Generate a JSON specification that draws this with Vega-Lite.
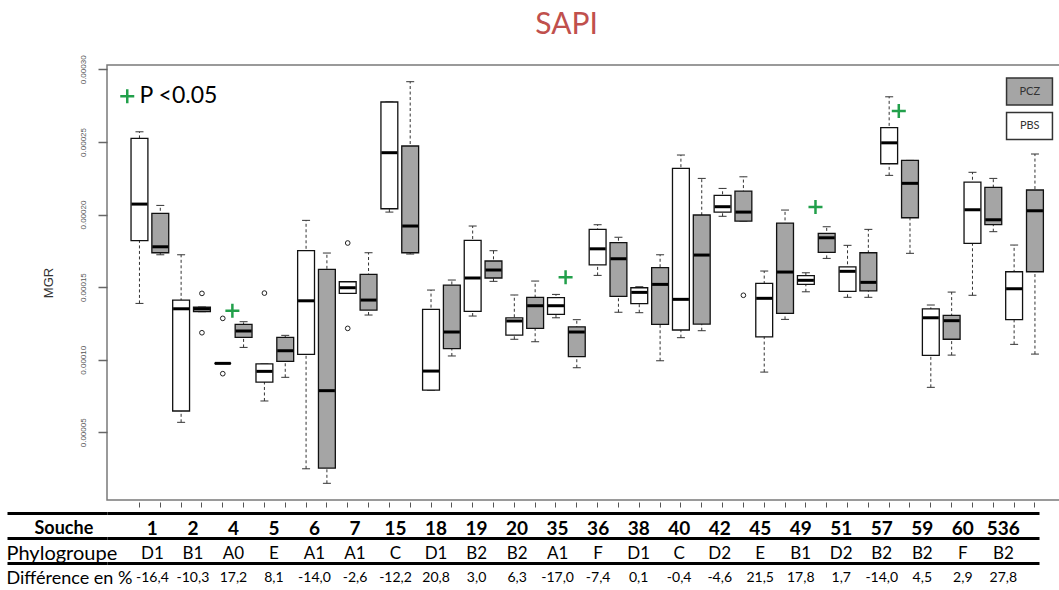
{
  "$schema": "https://vega.github.io/schema/vega-lite/v6.json",
  "padding": {"left": 5, "top": 10, "right": 0, "bottom": 0},
  "title": {"text": "SAPI", "font": "Lato", "fontSize": 30, "fontWeight": "normal", "color": "#c0504d", "anchor": "middle", "dx": 33, "offset": 14},
  "config": {"view": {"stroke": "#7a7a7a", "strokeWidth": 1.5}, "font": "Lato"},
  "spacing": -5,
  "datasets": {
    "boxes": [
      {"box": "1 PBS", "traitement": "PBS", "lo": 0.0001388, "q1": 0.0001820, "med": 0.0002072, "q3": 0.0002525, "hi": 0.0002570},
      {"box": "1 PCZ", "traitement": "PCZ", "lo": 0.0001723, "q1": 0.0001737, "med": 0.0001778, "q3": 0.0002008, "hi": 0.0002063},
      {"box": "2 PBS", "traitement": "PBS", "lo": 0.0000569, "q1": 0.0000647, "med": 0.0001351, "q3": 0.0001411, "hi": 0.0001723},
      {"box": "2 PCZ", "traitement": "PCZ", "lo": 0.0001331, "q1": 0.0001331, "med": 0.0001351, "q3": 0.0001363, "hi": 0.0001363},
      {"box": "4 PBS", "traitement": "PBS", "lo": 0.0000975, "q1": 0.0000975, "med": 0.0000975, "q3": 0.0000975, "hi": 0.0000975},
      {"box": "4 PCZ", "traitement": "PCZ", "lo": 0.0001085, "q1": 0.0001154, "med": 0.0001198, "q3": 0.0001244, "hi": 0.0001262},
      {"box": "5 PBS", "traitement": "PBS", "lo": 0.0000716, "q1": 0.0000846, "med": 0.0000920, "q3": 0.0000972, "hi": 0.0000972},
      {"box": "5 PCZ", "traitement": "PCZ", "lo": 0.0000879, "q1": 0.0000989, "med": 0.0001062, "q3": 0.0001154, "hi": 0.0001168},
      {"box": "6 PBS", "traitement": "PBS", "lo": 0.0000249, "q1": 0.0001037, "med": 0.0001406, "q3": 0.0001751, "hi": 0.0001960},
      {"box": "6 PCZ", "traitement": "PCZ", "lo": 0.0000149, "q1": 0.0000254, "med": 0.0000787, "q3": 0.0001623, "hi": 0.0001735},
      {"box": "7 PBS", "traitement": "PBS", "lo": 0.0001457, "q1": 0.0001457, "med": 0.0001496, "q3": 0.0001537, "hi": 0.0001537},
      {"box": "7 PCZ", "traitement": "PCZ", "lo": 0.0001308, "q1": 0.0001342, "med": 0.0001411, "q3": 0.0001588, "hi": 0.0001737},
      {"box": "15 PBS", "traitement": "PBS", "lo": 0.0002017, "q1": 0.0002040, "med": 0.0002426, "q3": 0.0002775, "hi": 0.0002775},
      {"box": "15 PCZ", "traitement": "PCZ", "lo": 0.0001728, "q1": 0.0001737, "med": 0.0001921, "q3": 0.0002472, "hi": 0.0002915},
      {"box": "18 PBS", "traitement": "PBS", "lo": 0.0000791, "q1": 0.0000791, "med": 0.0000922, "q3": 0.0001347, "hi": 0.0001480},
      {"box": "18 PCZ", "traitement": "PCZ", "lo": 0.0001026, "q1": 0.0001076, "med": 0.0001191, "q3": 0.0001514, "hi": 0.0001549},
      {"box": "19 PBS", "traitement": "PBS", "lo": 0.0001301, "q1": 0.0001333, "med": 0.0001563, "q3": 0.0001822, "hi": 0.0001921},
      {"box": "19 PCZ", "traitement": "PCZ", "lo": 0.0001540, "q1": 0.0001563, "med": 0.0001618, "q3": 0.0001680, "hi": 0.0001751},
      {"box": "20 PBS", "traitement": "PBS", "lo": 0.0001141, "q1": 0.0001170, "med": 0.0001267, "q3": 0.0001289, "hi": 0.0001446},
      {"box": "20 PCZ", "traitement": "PCZ", "lo": 0.0001124, "q1": 0.0001216, "med": 0.0001372, "q3": 0.0001430, "hi": 0.0001542},
      {"box": "35 PBS", "traitement": "PBS", "lo": 0.0001289, "q1": 0.0001313, "med": 0.0001372, "q3": 0.0001428, "hi": 0.0001450},
      {"box": "35 PCZ", "traitement": "PCZ", "lo": 0.0000945, "q1": 0.0001021, "med": 0.0001191, "q3": 0.0001227, "hi": 0.0001276},
      {"box": "36 PBS", "traitement": "PBS", "lo": 0.0001581, "q1": 0.0001654, "med": 0.0001764, "q3": 0.0001898, "hi": 0.0001930},
      {"box": "36 PCZ", "traitement": "PCZ", "lo": 0.0001327, "q1": 0.0001437, "med": 0.0001696, "q3": 0.0001806, "hi": 0.0001843},
      {"box": "38 PBS", "traitement": "PBS", "lo": 0.0001324, "q1": 0.0001386, "med": 0.0001464, "q3": 0.0001496, "hi": 0.0001503},
      {"box": "38 PCZ", "traitement": "PCZ", "lo": 0.0000993, "q1": 0.0001244, "med": 0.0001519, "q3": 0.0001634, "hi": 0.0001723},
      {"box": "40 PBS", "traitement": "PBS", "lo": 0.0001152, "q1": 0.0001205, "med": 0.0001416, "q3": 0.0002318, "hi": 0.0002410},
      {"box": "40 PCZ", "traitement": "PCZ", "lo": 0.0001200, "q1": 0.0001246, "med": 0.0001721, "q3": 0.0001997, "hi": 0.0002249},
      {"box": "42 PBS", "traitement": "PBS", "lo": 0.0001988, "q1": 0.0002017, "med": 0.0002054, "q3": 0.0002132, "hi": 0.0002180},
      {"box": "42 PCZ", "traitement": "PCZ", "lo": 0.0001955, "q1": 0.0001955, "med": 0.0002017, "q3": 0.0002162, "hi": 0.0002260},
      {"box": "45 PBS", "traitement": "PBS", "lo": 0.0000915, "q1": 0.0001158, "med": 0.0001423, "q3": 0.0001526, "hi": 0.0001611},
      {"box": "45 PCZ", "traitement": "PCZ", "lo": 0.0001278, "q1": 0.0001320, "med": 0.0001604, "q3": 0.0001941, "hi": 0.0002031},
      {"box": "49 PBS", "traitement": "PBS", "lo": 0.0001468, "q1": 0.0001519, "med": 0.0001547, "q3": 0.0001579, "hi": 0.0001599},
      {"box": "49 PCZ", "traitement": "PCZ", "lo": 0.0001698, "q1": 0.0001740, "med": 0.0001840, "q3": 0.0001870, "hi": 0.0001916},
      {"box": "51 PBS", "traitement": "PBS", "lo": 0.0001430, "q1": 0.0001471, "med": 0.0001609, "q3": 0.0001640, "hi": 0.0001788},
      {"box": "51 PCZ", "traitement": "PCZ", "lo": 0.0001430, "q1": 0.0001475, "med": 0.0001533, "q3": 0.0001737, "hi": 0.0001898},
      {"box": "57 PBS", "traitement": "PBS", "lo": 0.0002270, "q1": 0.0002350, "med": 0.0002494, "q3": 0.0002598, "hi": 0.0002811},
      {"box": "57 PCZ", "traitement": "PCZ", "lo": 0.0001733, "q1": 0.0001978, "med": 0.0002215, "q3": 0.0002373, "hi": 0.0002373},
      {"box": "59 PBS", "traitement": "PBS", "lo": 0.0000810, "q1": 0.0001030, "med": 0.0001289, "q3": 0.0001350, "hi": 0.0001377},
      {"box": "59 PCZ", "traitement": "PCZ", "lo": 0.0001032, "q1": 0.0001141, "med": 0.0001269, "q3": 0.0001306, "hi": 0.0001466},
      {"box": "60 PBS", "traitement": "PBS", "lo": 0.0001444, "q1": 0.0001802, "med": 0.0002033, "q3": 0.0002224, "hi": 0.0002291},
      {"box": "60 PCZ", "traitement": "PCZ", "lo": 0.0001882, "q1": 0.0001930, "med": 0.0001964, "q3": 0.0002187, "hi": 0.0002249},
      {"box": "536 PBS", "traitement": "PBS", "lo": 0.0001106, "q1": 0.0001276, "med": 0.0001489, "q3": 0.0001606, "hi": 0.0001790},
      {"box": "536 PCZ", "traitement": "PCZ", "lo": 0.0001039, "q1": 0.0001606, "med": 0.0002026, "q3": 0.0002169, "hi": 0.0002417}
    ],
    "outliers": [
      {"box": "2 PCZ", "v": 0.0001457},
      {"box": "2 PCZ", "v": 0.0001186},
      {"box": "4 PBS", "v": 0.0001285},
      {"box": "4 PBS", "v": 0.0000904},
      {"box": "5 PBS", "v": 0.0001459},
      {"box": "7 PBS", "v": 0.0001804},
      {"box": "7 PBS", "v": 0.0001216},
      {"box": "42 PCZ", "v": 0.0001444}
    ],
    "sig": [
      {"box": "4 PBS", "v": 0.0001338, "sig": "P <0.05"},
      {"box": "35 PBS", "v": 0.0001568, "sig": "P <0.05"},
      {"box": "49 PBS", "v": 0.0002052, "sig": "P <0.05"},
      {"box": "57 PBS", "v": 0.0002713, "sig": "P <0.05"}
    ],
    "table": [
      {"souche": "1", "phylo": "D1", "diff": "-16,4"},
      {"souche": "2", "phylo": "B1", "diff": "-10,3"},
      {"souche": "4", "phylo": "A0", "diff": "17,2"},
      {"souche": "5", "phylo": "E", "diff": "8,1"},
      {"souche": "6", "phylo": "A1", "diff": "-14,0"},
      {"souche": "7", "phylo": "A1", "diff": "-2,6"},
      {"souche": "15", "phylo": "C", "diff": "-12,2"},
      {"souche": "18", "phylo": "D1", "diff": "20,8"},
      {"souche": "19", "phylo": "B2", "diff": "3,0"},
      {"souche": "20", "phylo": "B2", "diff": "6,3"},
      {"souche": "35", "phylo": "A1", "diff": "-17,0"},
      {"souche": "36", "phylo": "F", "diff": "-7,4"},
      {"souche": "38", "phylo": "D1", "diff": "0,1"},
      {"souche": "40", "phylo": "C", "diff": "-0,4"},
      {"souche": "42", "phylo": "D2", "diff": "-4,6"},
      {"souche": "45", "phylo": "E", "diff": "21,5"},
      {"souche": "49", "phylo": "B1", "diff": "17,8"},
      {"souche": "51", "phylo": "D2", "diff": "1,7"},
      {"souche": "57", "phylo": "B2", "diff": "-14,0"},
      {"souche": "59", "phylo": "B2", "diff": "4,5"},
      {"souche": "60", "phylo": "F", "diff": "2,9"},
      {"souche": "536", "phylo": "B2", "diff": "27,8"}
    ]
  },
  "vconcat": [
    {
      "width": 954,
      "height": 435,
      "data": {"name": "boxes"},
      "encoding": {
        "x": {
          "field": "box",
          "type": "nominal",
          "title": null,
          "scale": {
            "domain": ["1 PBS", "1 PCZ", "2 PBS", "2 PCZ", "4 PBS", "4 PCZ", "5 PBS", "5 PCZ", "6 PBS", "6 PCZ", "7 PBS", "7 PCZ", "15 PBS", "15 PCZ", "18 PBS", "18 PCZ", "19 PBS", "19 PCZ", "20 PBS", "20 PCZ", "35 PBS", "35 PCZ", "36 PBS", "36 PCZ", "38 PBS", "38 PCZ", "40 PBS", "40 PCZ", "42 PBS", "42 PCZ", "45 PBS", "45 PCZ", "49 PBS", "49 PCZ", "51 PBS", "51 PCZ", "57 PBS", "57 PCZ", "59 PBS", "59 PCZ", "60 PBS", "60 PCZ", "536 PBS", "536 PCZ"],
            "paddingInner": 0.19,
            "paddingOuter": 1.615,
            "align": 0.577
          },
          "axis": {"labels": false, "title": null, "domain": false, "ticks": true, "tickSize": 5, "tickColor": "#555", "tickWidth": 1, "offset": 2, "grid": false, "minExtent": 0}
        }
      },
      "layer": [
        {
          "mark": {"type": "rule", "strokeDash": [3, 2.5], "color": "#333", "strokeWidth": 1},
          "encoding": {
            "y": {
              "field": "lo",
              "type": "quantitative",
              "title": "MGR",
              "scale": {"domain": [0.0000034, 0.000303], "nice": false, "zero": false},
              "axis": {
                "values": [0.00005, 0.0001, 0.00015, 0.0002, 0.00025, 0.0003],
                "format": ".5f",
                "domain": false,
                "grid": false,
                "tickSize": 9,
                "tickColor": "#666",
                "tickWidth": 1.5,
                "labelAngle": -90,
                "labelAlign": "center",
                "labelBaseline": "middle",
                "labelPadding": 14.5,
                "labelFont": "Liberation Sans",
                "labelFontSize": 8,
                "labelColor": "#555",
                "titleFont": "Liberation Sans",
                "titleFontSize": 13,
                "titleFontWeight": "normal",
                "titleColor": "#333",
                "titlePadding": 24
              }
            },
            "y2": {"field": "hi"}
          }
        },
        {
          "mark": {"type": "tick", "size": 8, "thickness": 1, "color": "#333", "opacity": 1},
          "encoding": {"y": {"field": "lo", "type": "quantitative", "title": "MGR"}}
        },
        {
          "mark": {"type": "tick", "size": 8, "thickness": 1, "color": "#333", "opacity": 1},
          "encoding": {"y": {"field": "hi", "type": "quantitative", "title": "MGR"}}
        },
        {
          "mark": {"type": "bar", "stroke": "#111", "strokeWidth": 1.3, "opacity": 1},
          "encoding": {
            "y": {"field": "q1", "type": "quantitative", "title": "MGR"},
            "y2": {"field": "q3"},
            "fill": {
              "field": "traitement",
              "type": "nominal",
              "scale": {"domain": ["PCZ", "PBS"], "range": ["#a5a5a5", "#ffffff"]},
              "legend": {
                "orient": "none",
                "legendX": 908,
                "legendY": 12,
                "title": null,
                "symbolType": "M-1.7,-1H1.7V1H-1.7Z",
                "symbolSize": 729,
                "symbolStrokeColor": "#333",
                "symbolStrokeWidth": 1.5,
                "symbolOpacity": 1,
                "labelAlign": "center",
                "labelOffset": -14.25,
                "labelFont": "Lato",
                "labelFontSize": 11,
                "labelColor": "#333",
                "rowPadding": 1.5
              }
            }
          }
        },
        {
          "mark": {"type": "tick", "size": 16, "thickness": 3, "color": "#000", "opacity": 1},
          "encoding": {"y": {"field": "med", "type": "quantitative", "title": "MGR"}}
        },
        {
          "data": {"name": "outliers"},
          "mark": {"type": "point", "shape": "circle", "filled": false, "size": 22, "color": "#222", "strokeWidth": 1, "opacity": 1},
          "encoding": {"y": {"field": "v", "type": "quantitative", "title": "MGR"}}
        },
        {
          "data": {"name": "sig"},
          "mark": {"type": "point", "shape": "M-1,0H1M0,-1V1", "size": 196, "strokeWidth": 2.5, "filled": false, "opacity": 1},
          "encoding": {
            "x": {"field": "box", "type": "nominal", "bandPosition": 1.07},
            "y": {"field": "v", "type": "quantitative", "title": "MGR"},
            "stroke": {
              "field": "sig",
              "type": "nominal",
              "scale": {"domain": ["P <0.05"], "range": ["#22a04b"]},
              "legend": {
                "orient": "none",
                "legendX": 8.75,
                "legendY": 19.75,
                "title": null,
                "symbolType": "M-1,0H1M0,-1V1",
                "symbolSize": 196,
                "symbolStrokeWidth": 2.5,
                "symbolOpacity": 1,
                "labelFont": "Lato",
                "labelFontSize": 23,
                "labelColor": "#000",
                "labelOffset": 0.75
              }
            }
          }
        }
      ]
    },
    {
      "width": 932,
      "height": 75,
      "view": {"stroke": null},
      "data": {"name": "table"},
      "encoding": {
        "x": {"field": "souche", "type": "nominal", "sort": null, "scale": {"type": "point", "padding": 1.04, "align": 0.56}, "axis": null}
      },
      "layer": [
        {
          "mark": {"type": "text", "font": "Lato", "fontSize": 19, "fontWeight": "bold", "color": "#000", "baseline": "middle", "dy": 3},
          "encoding": {
            "y": {
              "datum": "Souche",
              "type": "nominal",
              "scale": {"type": "band", "domain": ["Souche", "Phylogroupe", "Différence en %"], "paddingInner": 0, "paddingOuter": 0},
              "axis": {
                "title": null,
                "domain": false,
                "ticks": true,
                "tickBand": "extent",
                "tickSize": 100,
                "tickColor": "#000",
                "tickWidth": 3,
                "tickOpacity": {"condition": {"test": "datum.value === 'Différence en %'", "value": 0}, "value": 1},
                "grid": true,
                "gridColor": "#000",
                "gridWidth": 3,
                "gridOpacity": {"condition": {"test": "datum.value === 'Différence en %'", "value": 0}, "value": 1},
                "labelAlign": "left",
                "labelBaseline": "middle",
                "labelPadding": {"condition": {"test": "datum.value === 'Souche'", "value": -27}, "value": 1},
                "labelFont": "Lato",
                "labelFontSize": {"condition": {"test": "datum.value === 'Phylogroupe'", "value": 20}, "value": 18},
                "labelFontWeight": {"condition": {"test": "datum.value === 'Souche'", "value": "bold"}, "value": "normal"},
                "labelColor": "#000",
                "labelOverlap": false,
                "labelBound": false,
                "labelLimit": 300,
                "labelOffset": 3
              }
            },
            "text": {"field": "souche"}
          }
        },
        {
          "mark": {"type": "text", "font": "Lato", "fontSize": 17, "color": "#000", "baseline": "middle", "dy": 3},
          "encoding": {"y": {"datum": "Phylogroupe", "type": "nominal"}, "text": {"field": "phylo"}}
        },
        {
          "mark": {"type": "text", "font": "Lato", "fontSize": 14, "color": "#000", "baseline": "middle", "dy": 2},
          "encoding": {"y": {"datum": "Différence en %", "type": "nominal"}, "text": {"field": "diff"}}
        }
      ]
    }
  ]
}
